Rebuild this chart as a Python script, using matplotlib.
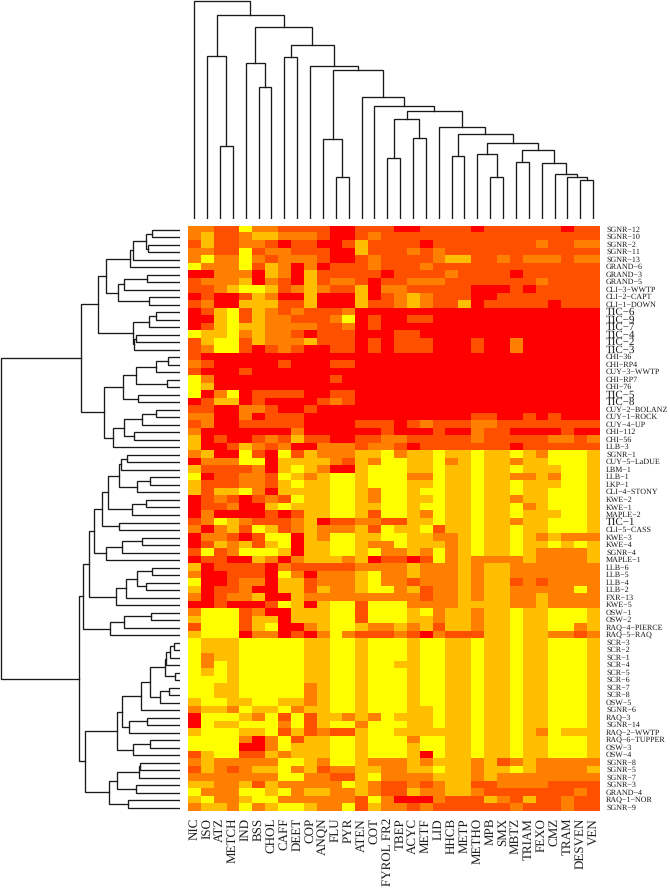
import numpy as np
import matplotlib
matplotlib.use("Agg")
import matplotlib.pyplot as plt
from matplotlib.colors import ListedColormap

plt.rcParams['font.family'] = ['Liberation Serif', 'DejaVu Serif']
plt.rcParams['text.hinting'] = 'no_hinting'
plt.rcParams['text.hinting_factor'] = 1

col_labels = ["NIC", "ISO", "ATZ", "METCH", "IND", "BSS", "CHOL", "CAFF", "DEET", "COP", "ANQN",
              "FLU", "PYR", "ATEN", "COT", "FYROL FR2", "TBEP", "ACYC", "METF", "LID", "HHCB",
              "METP", "METHO", "MPB", "SMX", "MBTZ", "TRIAM", "FEXO", "CMZ", "TRAM", "DESVEN", "VEN"]

row_labels = ["SGNR-12", "SGNR-10", "SGNR-2", "SGNR-11", "SGNR-13", "GRAND-6", "GRAND-3", "GRAND-5",
              "CLI-3-WWTP", "CLI-2-CAPT", "CLI-1-DOWN", "TIC-6", "TIC-9", "TIC-7", "TIC-4", "TIC-2",
              "TIC-3", "CHI-36", "CHI-RP4", "CUY-3-WWTP", "CHI-RP7", "CHI-76", "TIC-5", "TIC-8",
              "CUY-2-BOLANZ", "CUY-1-ROCK", "CUY-4-UP", "CHI-112", "CHI-56", "LLB-3", "SGNR-1",
              "CUY-5-LaDUE", "LBM-1", "LLB-1", "LKP-1", "CLI-4-STONY", "KWE-2", "KWE-1", "MAPLE-2",
              "TIC-1", "CLI-5-CASS", "KWE-3", "KWE-4", "SGNR-4", "MAPLE-1", "LLB-6", "LLB-5", "LLB-4",
              "LLB-2", "FXR-13", "KWE-5", "OSW-1", "OSW-2", "RAQ-4-PIERCE", "RAQ-5-RAQ", "SCR-3",
              "SCR-2", "SCR-1", "SCR-4", "SCR-5", "SCR-6", "SCR-7", "SCR-8", "OSW-5", "SGNR-6",
              "RAQ-3", "SGNR-14", "RAQ-2-WWTP", "RAQ-6-TUPPER", "OSW-3", "OSW-4", "SGNR-8", "SGNR-5",
              "SGNR-7", "SGNR-3", "GRAND-4", "RAQ-1-NOR", "SGNR-9"]

# one digit per cell, 0 = red ... 4 = yellow
heat_rows = [
    "22114221111001110011110111111011", "23112332221001211111111111111111",
    "13112210110013111101111111121122", "22114122111003111212111111111111",
    "24224212221001211112331121222122", "42224132020111211121111111111111",
    "00222032031111101111211110111111", "12223021031221011222111111121111",
    "11234431232113022111110001011111", "01001320030003012321110011111111",
    "12003331130003112321130111110111", "01341321211120000000000000000000",
    "00341322111240100110000000000000", "01343322221120100000000000000000",
    "43342322101110001100000000000000", "13441322231110101110001002000000",
    "12441012100110101110001002000000", "10000000000000000000000000000000",
    "21000001000110000000000000000000", "10001000000000000000000000000000",
    "42000000000100000000000000000000", "43000000000000000000000000000000",
    "40240111100110000000000000000000", "01330100001210000000000000000000",
    "11002210010000000000000000000000", "22002011100000000000001100101000",
    "12001111100001110121112211111111", "20000000200000010001002110000100",
    "30100121311001122111112111112212", "30013212002221221011111110111111",
    "23004104132223342334334334324443", "02224403333213244334234332334443",
    "31111203432003444334334334333443", "40112214323443444224334332232443",
    "31112213433443444334334334333443", "31334203333443244344334334334443",
    "01210121433443244334334332334443", "01120034333443344344334334234443",
    "02000010133443144324334334333443", "12432111230112211334334332334443",
    "20231431232223143341334334334443", "02210144032443344332234334323222",
    "01323134033443224333234334334343", "14124443033443422324234334322223",
    "01100320233323011014232222322223", "30111102111112222322232332222222",
    "20011104202223422322232332222222", "40012203312223422122232331212222",
    "30112003313223442312232332222242", "20122300322222222212232332232222",
    "00100014303441444222233332232222", "24441200333441444342332334334443",
    "34441330333441444332332334334443", "14441340023443223231332334334423",
    "34440220102421112102111334332212", "43334444433443444344334334334443",
    "43334444433443444344334334334443", "42334444433443444344334334334443",
    "42434444433443443344334334334443", "43434444433443444344334334334443",
    "44434444433443444344334334334443", "44334444423443444344334334334443",
    "44334444423443444344334334334443", "34433443323443444344334334334443",
    "23324334233443444334334334334443", "04443241413323243334334334334443",
    "04334442413442444334334334334443", "34443341312113443333334334324333",
    "44442024133443444244334334334443", "44440024333443444344334334334443",
    "13441132333443444304334334334443", "23222224432443222323332312322222",
    "13212334231223322334332334322223", "22222224422113422223332322222222",
    "33223132222243211212331122221111", "42224434233223211322332111111121",
    "34223442222221420002111321311211", "23324234432241322121111112111211",
]

# column tree, ids from 32 up are earlier merges
col_left = [2, 1, 5, 4, 7, 11, 10, 15, 17, 39, 30, 29, 28, 27, 25, 46, 23, 22, 49, 20, 51, 19, 41,
            14, 13, 38, 9, 36, 35, 33, 0]
col_right = [3, 32, 6, 34, 8, 12, 37, 16, 18, 40, 31, 42, 43, 44, 26, 45, 24, 48, 47, 21, 50, 52, 53,
             54, 55, 56, 57, 58, 59, 60, 61]
col_height = [219, 490, 395, 469, 485, 127, 240, 182, 242, 299, 116, 125, 136, 169, 171, 206, 126, 196,
              228, 189, 254, 275, 324, 339, 365, 446, 460, 522, 576, 613, 655]

# row tree, ids from 78 up are earlier merges
row_left = [0, 2, 78, 80, 81, 6, 83, 9, 84, 82, 11, 88, 14, 90, 89, 87, 17, 94, 20, 95, 22, 97, 24, 100,
            27, 101, 103, 99, 93, 30, 107, 33, 109, 108, 36, 112, 111, 39, 114, 41, 117, 118, 116,
            45, 47, 121, 123, 124, 120, 51, 127, 128, 126, 55, 131, 132, 59, 133, 61, 136, 135, 138,
            65, 140, 139, 68, 143, 142, 71, 146, 74, 147, 76, 149, 145, 130, 106]
row_right = [1, 3, 79, 4, 5, 7, 8, 10, 85, 86, 12, 13, 15, 16, 91, 92, 18, 19, 21, 96, 23, 98, 25, 26,
             28, 102, 29, 104, 105, 31, 32, 34, 35, 110, 37, 38, 113, 40, 115, 42, 43, 44, 119,
             46, 48, 122, 49, 50, 125, 52, 53, 54, 129, 56, 57, 58, 60, 134, 62, 63, 137, 64,
             66, 67, 141, 69, 70, 144, 72, 73, 75, 148, 77, 150, 151, 152, 153]
row_height = [84, 94, 102, 139, 148, 98, 167, 92, 186, 220, 72, 92, 130, 136, 141, 246, 35, 71, 39, 130,
              124, 170, 72, 113, 138, 168, 199, 228, 297, 157, 176, 89, 129, 182, 100, 144, 214, 181,
              234, 114, 172, 220, 256, 84, 102, 129, 160, 192, 273, 86, 166, 210, 290, 17, 28, 40,
              14, 44, 32, 58, 89, 116, 98, 151, 173, 88, 141, 189, 119, 121, 132, 188, 154, 211, 283,
              303, 536]

WIDTH, HEIGHT = 670, 888


def px_axes(x0, y0, x1, y1):
    # axes from pixel box, y counted from the top of the image
    ax = fig.add_axes([x0 / WIDTH, 1 - y1 / HEIGHT, (x1 - x0) / WIDTH, (y1 - y0) / HEIGHT])
    ax.axis('off')
    return ax


def draw_tree(ax, n, left, right, height, sideways=False):
    pos = {i: i + 0.5 for i in range(n)}
    hgt = {i: 0 for i in range(n)}
    for j, (a, b, h) in enumerate(zip(left, right, height)):
        xs = [pos[a], pos[a], pos[b], pos[b]]
        ys = [hgt[a], h, h, hgt[b]]
        if sideways:
            ax.plot(ys, xs, color='#1a1a1a', lw=0.95, solid_joinstyle='miter')
        else:
            ax.plot(xs, ys, color='#1a1a1a', lw=0.95, solid_joinstyle='miter')
        pos[n + j] = (pos[a] + pos[b]) / 2
        hgt[n + j] = h


fig = plt.figure(figsize=(WIDTH / 100, HEIGHT / 100), dpi=100)

matrix = np.array([[int(c) for c in r] for r in heat_rows])
cmap = ListedColormap(['#ff0000', '#ff5000', '#ff8000', '#ffbf00', '#ffff00'])

ax_heat = px_axes(187.8, 226, 599.6, 811.5)
ax_heat.imshow(matrix, cmap=cmap, vmin=0, vmax=4, aspect='auto', interpolation='nearest',
               extent=(0, 32, 78, 0))
ax_heat.set_xlim(0, 32)
ax_heat.set_ylim(78, 0)

for i, name in enumerate(col_labels):
    ax_heat.annotate(name, (i + 0.5, 78), xytext=(0, -4.6), textcoords='offset points', rotation=90,
                     ha='center', va='top', fontsize=9.5, color='#1a1a1a', annotation_clip=False)

for i, name in enumerate(row_labels):
    size = 7.8 if name.startswith('TIC') else 5.8
    ax_heat.annotate(name.replace('-', '\u2212'), (32, i + 0.5), xytext=(4.6, 0),
                     textcoords='offset points', ha='left', va='center', fontsize=size,
                     color='#1a1a1a', annotation_clip=False)

ax_top = px_axes(187.8, 0, 599.6, 219)
draw_tree(ax_top, 32, col_left, col_right, col_height)
ax_top.set_xlim(0, 32)
ax_top.set_ylim(0, 657)

ax_side = px_axes(0, 226, 179.7, 811.5)
draw_tree(ax_side, 78, row_left, row_right, row_height, sideways=True)
ax_side.set_xlim(539, 0)
ax_side.set_ylim(78, 0)

plt.savefig('out.png', dpi=100)
